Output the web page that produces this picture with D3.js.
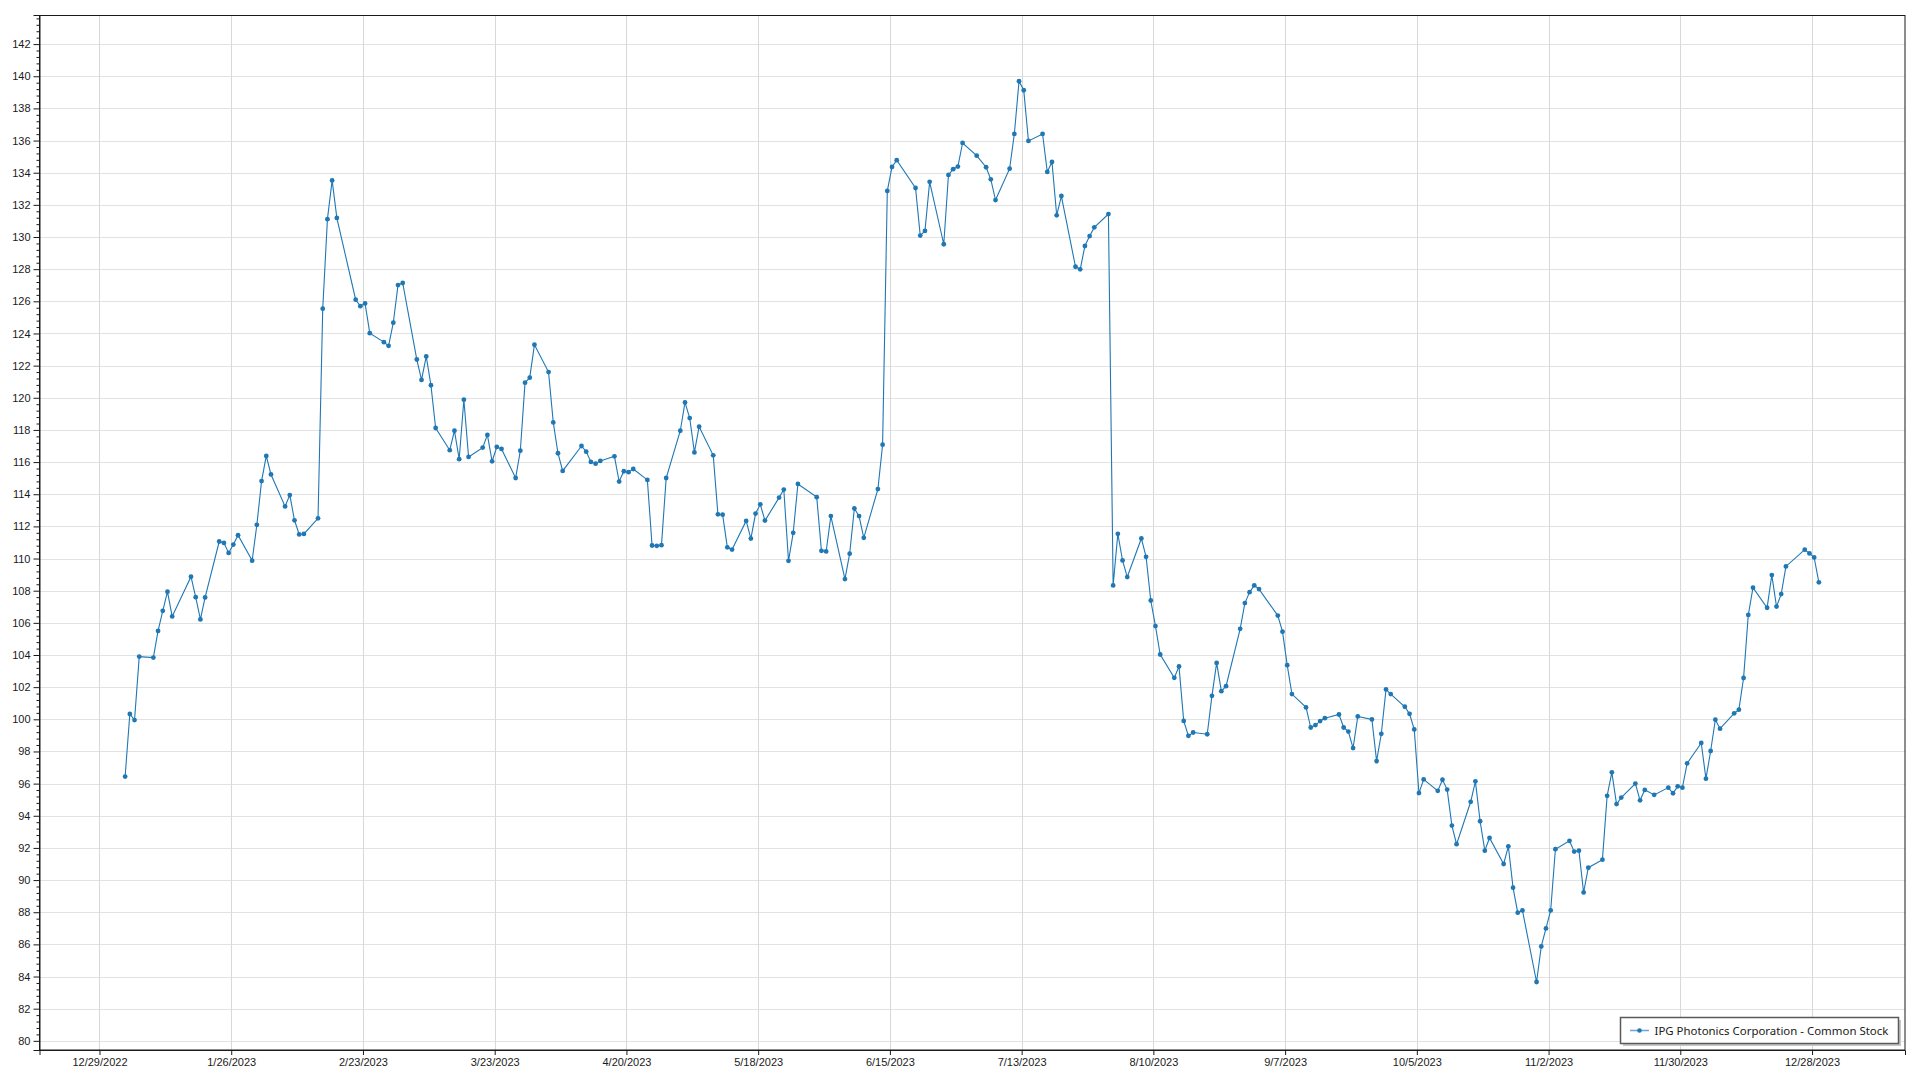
<!DOCTYPE html>
<html><head><meta charset="utf-8">
<script src="https://cdn.jsdelivr.net/npm/d3@7"></script>
<style>
html,body{margin:0;padding:0;background:#fff;}
svg{display:block;font-family:"Segoe UI","Noto Sans","Open Sans",sans-serif;}
</style></head><body>
<svg id="chart" width="1920" height="1080"></svg>
<script>
const seriesName = "IPG Photonics Corporation - Common Stock";
const dates = [
"2023-01-03","2023-01-04","2023-01-05","2023-01-06","2023-01-09","2023-01-10","2023-01-11","2023-01-12","2023-01-13","2023-01-17","2023-01-18","2023-01-19","2023-01-20","2023-01-23","2023-01-24","2023-01-25","2023-01-26","2023-01-27","2023-01-30","2023-01-31",
"2023-02-01","2023-02-02","2023-02-03","2023-02-06","2023-02-07","2023-02-08","2023-02-09","2023-02-10","2023-02-13","2023-02-14","2023-02-15","2023-02-16","2023-02-17","2023-02-21","2023-02-22","2023-02-23","2023-02-24","2023-02-27","2023-02-28",
"2023-03-01","2023-03-02","2023-03-03","2023-03-06","2023-03-07","2023-03-08","2023-03-09","2023-03-10","2023-03-13","2023-03-14","2023-03-15","2023-03-16","2023-03-17","2023-03-20","2023-03-21","2023-03-22","2023-03-23","2023-03-24","2023-03-27","2023-03-28","2023-03-29","2023-03-30","2023-03-31",
"2023-04-03","2023-04-04","2023-04-05","2023-04-06","2023-04-10","2023-04-11","2023-04-12","2023-04-13","2023-04-14","2023-04-17","2023-04-18","2023-04-19","2023-04-20","2023-04-21","2023-04-24","2023-04-25","2023-04-26","2023-04-27","2023-04-28",
"2023-05-01","2023-05-02","2023-05-03","2023-05-04","2023-05-05","2023-05-08","2023-05-09","2023-05-10","2023-05-11","2023-05-12","2023-05-15","2023-05-16","2023-05-17","2023-05-18","2023-05-19","2023-05-22","2023-05-23","2023-05-24","2023-05-25","2023-05-26","2023-05-30","2023-05-31",
"2023-06-01","2023-06-02","2023-06-05","2023-06-06","2023-06-07","2023-06-08","2023-06-09","2023-06-12","2023-06-13","2023-06-14","2023-06-15","2023-06-16","2023-06-20","2023-06-21","2023-06-22","2023-06-23","2023-06-26","2023-06-27","2023-06-28","2023-06-29","2023-06-30",
"2023-07-03","2023-07-05","2023-07-06","2023-07-07","2023-07-10","2023-07-11","2023-07-12","2023-07-13","2023-07-14","2023-07-17","2023-07-18","2023-07-19","2023-07-20","2023-07-21","2023-07-24","2023-07-25","2023-07-26","2023-07-27","2023-07-28","2023-07-31",
"2023-08-01","2023-08-02","2023-08-03","2023-08-04","2023-08-07","2023-08-08","2023-08-09","2023-08-10","2023-08-11","2023-08-14","2023-08-15","2023-08-16","2023-08-17","2023-08-18","2023-08-21","2023-08-22","2023-08-23","2023-08-24","2023-08-25","2023-08-28","2023-08-29","2023-08-30","2023-08-31",
"2023-09-01","2023-09-05","2023-09-06","2023-09-07","2023-09-08","2023-09-11","2023-09-12","2023-09-13","2023-09-14","2023-09-15","2023-09-18","2023-09-19","2023-09-20","2023-09-21","2023-09-22","2023-09-25","2023-09-26","2023-09-27","2023-09-28","2023-09-29",
"2023-10-02","2023-10-03","2023-10-04","2023-10-05","2023-10-06","2023-10-09","2023-10-10","2023-10-11","2023-10-12","2023-10-13","2023-10-16","2023-10-17","2023-10-18","2023-10-19","2023-10-20","2023-10-23","2023-10-24","2023-10-25","2023-10-26","2023-10-27","2023-10-30","2023-10-31",
"2023-11-01","2023-11-02","2023-11-03","2023-11-06","2023-11-07","2023-11-08","2023-11-09","2023-11-10","2023-11-13","2023-11-14","2023-11-15","2023-11-16","2023-11-17","2023-11-20","2023-11-21","2023-11-22","2023-11-24","2023-11-27","2023-11-28","2023-11-29","2023-11-30",
"2023-12-01","2023-12-04","2023-12-05","2023-12-06","2023-12-07","2023-12-08","2023-12-11","2023-12-12","2023-12-13","2023-12-14","2023-12-15","2023-12-18","2023-12-19","2023-12-20","2023-12-21","2023-12-22","2023-12-26","2023-12-27","2023-12-28","2023-12-29"
];
const prices = [
96.44,100.33,99.95,103.9,103.84,105.5,106.75,107.94,106.4,108.87,107.6,106.21,107.58,111.06,110.97,110.35,110.87,111.45,109.87,112.1,
114.82,116.38,115.23,113.24,113.95,112.38,111.5,111.53,112.5,125.54,131.11,133.52,131.19,126.1,125.7,125.87,124.02,123.46,123.23,
124.67,127.01,127.14,122.38,121.11,122.57,120.78,118.12,116.74,117.95,116.18,119.88,116.32,116.9,117.69,116.05,116.94,116.82,115.01,116.71,120.94,121.25,123.3,
121.6,118.47,116.55,115.45,117.0,116.65,116.01,115.9,116.07,116.36,114.79,115.43,115.37,115.57,114.89,110.81,110.79,110.83,115.01,
117.95,119.71,118.74,116.6,118.2,116.42,112.75,112.73,110.7,110.56,112.34,111.24,112.8,113.37,112.36,113.79,114.29,109.86,111.6,114.64,113.82,110.48,
110.44,112.64,108.72,110.3,113.12,112.64,111.29,114.32,117.08,132.87,134.36,134.78,133.05,130.09,130.38,133.43,129.55,133.86,134.22,134.38,135.85,
135.06,134.34,133.59,132.3,134.25,136.41,139.69,139.13,135.98,136.41,134.05,134.67,131.35,132.55,128.15,127.99,129.44,130.06,130.6,131.43,
108.33,111.54,109.88,108.85,111.25,110.11,107.39,105.8,104.03,102.58,103.29,99.9,98.97,99.18,99.07,101.46,103.51,101.75,102.06,105.63,107.23,107.91,108.33,
108.1,106.45,105.45,103.37,101.57,100.74,99.49,99.64,99.89,100.07,100.3,99.49,99.24,98.21,100.18,99.99,97.4,99.1,101.86,101.57,
100.78,100.34,99.37,95.41,96.26,95.55,96.24,95.63,93.39,92.23,94.87,96.14,93.66,91.83,92.62,91.0,92.1,89.53,87.97,88.11,83.66,85.87,
86.99,88.11,91.92,92.44,91.77,91.83,89.23,90.77,91.27,95.24,96.7,94.73,95.13,96.0,94.96,95.61,95.3,95.75,95.4,95.83,95.75,
97.26,98.53,96.31,98.03,99.98,99.42,100.37,100.6,102.57,106.49,108.19,106.94,108.97,107.01,107.79,109.51,110.55,110.32,110.07,108.52
];
const yTickValues = d3.range(80, 143, 2);
const xTickDates = ["2022-12-29","2023-01-26","2023-02-23","2023-03-23","2023-04-20","2023-05-18","2023-06-15","2023-07-13","2023-08-10","2023-09-07","2023-10-05","2023-11-02","2023-11-30","2023-12-28"];
const xTickLabels = ["12/29/2022","1/26/2023","2/23/2023","3/23/2023","4/20/2023","5/18/2023","6/15/2023","7/13/2023","8/10/2023","9/7/2023","10/5/2023","11/2/2023","11/30/2023","12/28/2023"];

const plot = {left: 39.5, top: 15, right: 1905, bottom: 1050};
const parse = d3.utcParse("%Y-%m-%d");
const DAY = 864e5;
const tickD = xTickDates.map(parse);
const x = d3.scaleUtc()
  .domain([new Date(+tickD[0] - 12.75 * DAY), new Date(+tickD[tickD.length - 1] + 19.76 * DAY)])
  .range([plot.left, plot.right]);
const y = d3.scaleLinear().domain([79.43, 143.81]).range([plot.bottom, plot.top]);

const data = dates.map((d, i) => ({date: new Date(+parse(d) + 0.45 * DAY), value: prices[i]}));

const svg = d3.select("#chart");
const g = svg.append("g");

// gridlines
g.append("g").selectAll("line").data(yTickValues).join("line")
  .attr("x1", plot.left).attr("x2", plot.right)
  .attr("y1", d => Math.round(y(d)) + 0.5).attr("y2", d => Math.round(y(d)) + 0.5)
  .attr("stroke", "#e2e2e2").attr("stroke-width", 1);
g.append("g").selectAll("line").data(tickD).join("line")
  .attr("y1", plot.top).attr("y2", plot.bottom)
  .attr("x1", d => Math.round(x(d)) + 0.5).attr("x2", d => Math.round(x(d)) + 0.5)
  .attr("stroke", "#d8d8d8").attr("stroke-width", 1);

// series
svg.append("clipPath").attr("id", "clip").append("rect")
  .attr("x", plot.left).attr("y", plot.top).attr("width", plot.right - plot.left).attr("height", plot.bottom - plot.top);
const series = g.append("g").attr("clip-path", "url(#clip)");
series.append("path").datum(data)
  .attr("fill", "none").attr("stroke", "#1f77b4").attr("stroke-width", 1.1)
  .attr("d", d3.line().x(d => x(d.date)).y(d => y(d.value)));
series.append("g").selectAll("circle").data(data).join("circle")
  .attr("cx", d => x(d.date)).attr("cy", d => y(d.value)).attr("r", 2.4)
  .attr("fill", "#1f77b4");

// plot border
g.append("rect").attr("x", plot.left).attr("y", plot.top + 0.5)
  .attr("width", plot.right - plot.left).attr("height", plot.bottom - plot.top - 0.5)
  .attr("fill", "none").attr("stroke", "#1a1a1a").attr("stroke-width", 1);

// y axis
const minorVals = d3.range(80, 143.8, 0.4).filter(v => Math.abs(v / 2 - Math.round(v / 2)) > 1e-6);
const yMinor = g.append("g").attr("transform", `translate(${plot.left},0)`)
  .call(d3.axisLeft(y).tickValues(minorVals).tickSize(3).tickFormat(""));
yMinor.select(".domain").remove();
yMinor.selectAll("line").attr("stroke", "#1a1a1a");
const yAxis = g.append("g").attr("transform", `translate(${plot.left},0)`)
  .call(d3.axisLeft(y).tickValues(yTickValues).tickSize(6).tickPadding(3).tickFormat(d3.format("d")));
yAxis.select(".domain").attr("stroke", "#1a1a1a");
yAxis.selectAll("line").attr("stroke", "#1a1a1a");
yAxis.selectAll("text").attr("font-size", 11).attr("fill", "#1a1a1a").attr("font-family", null);

// x axis
const xAxis = g.append("g").attr("transform", `translate(0,${plot.bottom})`)
  .call(d3.axisBottom(x).tickValues(tickD).tickSize(5).tickPadding(3).tickFormat((d, i) => xTickLabels[i]));
xAxis.select(".domain").attr("stroke", "#1a1a1a");
xAxis.selectAll("line").attr("stroke", "#1a1a1a");
xAxis.selectAll("text").attr("font-size", 11).attr("fill", "#1a1a1a").attr("font-family", null);

// legend
const lg = svg.append("g").attr("transform", "translate(1620,1017)");
lg.append("rect").attr("x", 3).attr("y", 3).attr("width", 278).attr("height", 26).attr("fill", "#c8c8c8");
lg.append("rect").attr("x", 0.5).attr("y", 0.5).attr("width", 278).attr("height", 26)
  .attr("fill", "#fff").attr("stroke", "#5a5a5a").attr("stroke-width", 1.5);
lg.append("line").attr("x1", 10).attr("x2", 29).attr("y1", 13.5).attr("y2", 13.5)
  .attr("stroke", "#6aa3d4").attr("stroke-width", 1.5);
lg.append("circle").attr("cx", 19.5).attr("cy", 13.5).attr("r", 2.3).attr("fill", "#1f77b4");
const lt = lg.append("text").attr("x", 34.5).attr("y", 13.5).attr("dy", "0.35em")
  .attr("font-size", 12).attr("fill", "#1a1a1a").text(seriesName);
const targetW = 234;
const w0 = lt.node().getComputedTextLength();
if (w0 > targetW) lt.attr("font-size", (12 * targetW / w0).toFixed(2));
</script>
</body></html>
